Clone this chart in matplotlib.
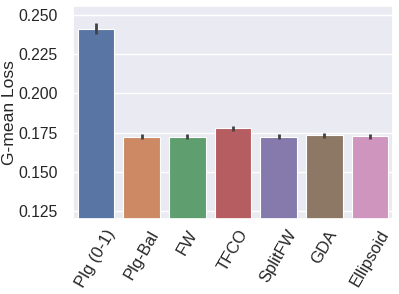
import matplotlib
matplotlib.use("Agg")
import matplotlib.pyplot as plt
import seaborn as sns
import numpy as np

categories = ["Plg (0-1)", "Plg-Bal", "FW", "TFCO", "SplitFW", "GDA", "Ellipsoid"]
values = [0.2411, 0.1722, 0.1722, 0.1776, 0.1722, 0.1733, 0.1727]
errors = [0.0032, 0.0016, 0.0016, 0.0018, 0.0016, 0.0017, 0.0016]

sns.set_theme(style="darkgrid")
plt.rcParams['font.family'] = ['Liberation Sans', 'DejaVu Sans']

fig = plt.figure(figsize=(3.99, 2.94), dpi=100)
ax = fig.add_axes([0.183, 0.255, 0.802, 0.725])

colors = sns.color_palette("deep", len(categories), desat=0.75)
x = np.arange(len(categories))
ax.bar(x, values, width=0.8, color=colors, edgecolor="white", linewidth=0.8, zorder=2)
ax.errorbar(x, values, yerr=errors, fmt="none", ecolor=".26", elinewidth=2.0, capsize=0, zorder=3)

fs = 11.3
ax.set_xlim(-0.5, len(categories) - 0.5)
ax.set_ylim(0.12, 0.2555)
ax.set_yticks([0.125, 0.150, 0.175, 0.200, 0.225, 0.250])
ax.set_yticklabels(["0.125", "0.150", "0.175", "0.200", "0.225", "0.250"], fontsize=fs)
ax.set_xticks(x)
ax.set_xticklabels(categories, rotation=60, fontsize=12)
ax.set_ylabel("G-mean Loss", fontsize=12.6, labelpad=1)
ax.tick_params(axis="y", pad=5)
ax.tick_params(axis="x", pad=0)
ax.grid(axis="x", visible=False)

fig.savefig("out.png", dpi=100)
